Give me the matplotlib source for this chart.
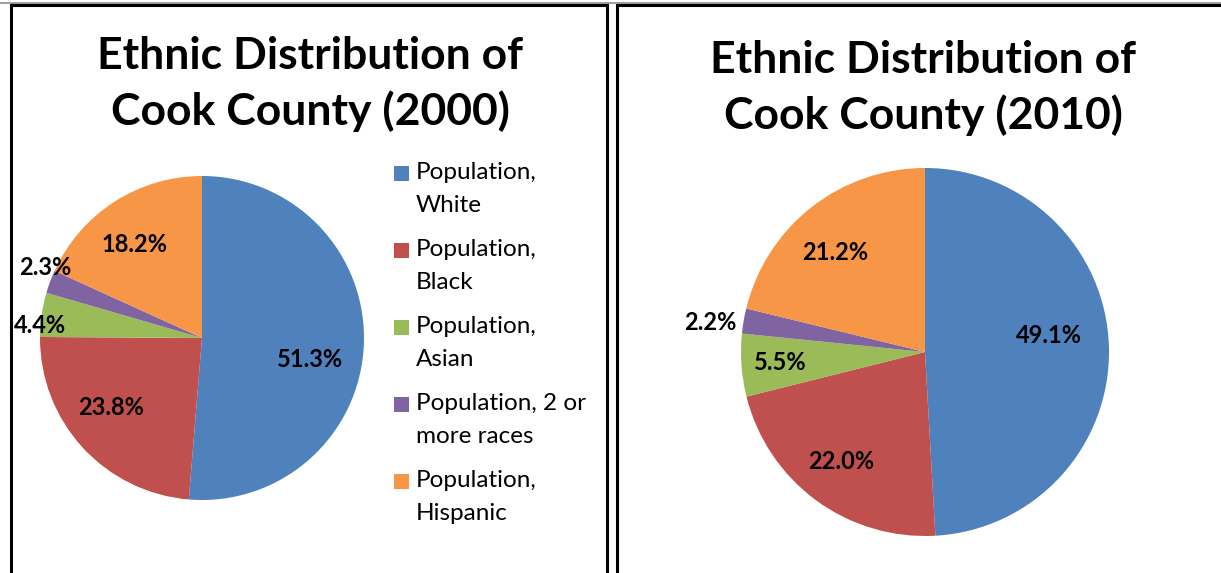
import numpy as np
import matplotlib.pyplot as plt
from matplotlib.patches import Rectangle

# data
groups = ['Population, White', 'Population, Black', 'Population, Asian',
          'Population, 2 or more races', 'Population, Hispanic']
legend_labels = ['Population,\nWhite', 'Population,\nBlack', 'Population,\nAsian',
                 'Population, 2 or\nmore races', 'Population,\nHispanic']
share_2000 = [51.3, 23.8, 4.4, 2.3, 18.2]
share_2010 = [49.1, 22.0, 5.5, 2.2, 21.2]
colors = ['#4F81BD', '#C0504D', '#9BBB59', '#8064A2', '#F79646']

# label placement (fraction of radius, angle shift in degrees)
lab_r_2000 = [0.68, 0.71, 1.00, 1.06, 0.71]
lab_da_2000 = [-9, -5, 4, -4, 3]
lab_r_2010 = [0.68, 0.75, 0.79, 1.18, 0.73]
lab_da_2010 = [6, -1, 0, 2, 4]

plt.rcParams['font.family'] = ['Lato', 'DejaVu Sans']

W, H = 1221, 573
fig = plt.figure(figsize=(W / 100, H / 100), dpi=100)


def fx(px):
    return px / W


def fy(py):
    return 1 - py / H


# panel borders
fig.add_artist(Rectangle((fx(0), fy(3.5)), 1, 0.002, transform=fig.transFigure,
                         color='#A0A0A0', lw=0))
for x0, x1 in [(11, 607), (617, 1240)]:
    fig.add_artist(Rectangle((fx(x0), fy(600)), fx(x1 - x0), fy(5) - fy(600),
                             transform=fig.transFigure, fill=False,
                             edgecolor='black', lw=2.2))


def draw_pie(cx, cy, r, values, lab_r, lab_da, title, tx, ty):
    ax = fig.add_axes([fx(cx - r), fy(cy + r), fx(2 * r), fy(cy - r) - fy(cy + r)])
    wedges, _ = ax.pie(values, colors=colors, startangle=90, counterclock=False,
                       wedgeprops=dict(linewidth=0))
    ax.set_xlim(-1, 1)
    ax.set_ylim(-1, 1)
    ax.set_aspect('auto')
    for w, v, rr, da in zip(wedges, values, lab_r, lab_da):
        ang = np.deg2rad((w.theta1 + w.theta2) / 2 + da)
        ax.text(rr * np.cos(ang), rr * np.sin(ang), '%.1f%%' % v,
                ha='center', va='center', fontsize=17, fontweight='bold',
                clip_on=False)
    fig.text(fx(tx), fy(ty), title, ha='center', va='center',
             fontsize=32, fontweight='bold', linespacing=1.39)
    return wedges


draw_pie(202, 338, 162, share_2000, lab_r_2000, lab_da_2000,
         'Ethnic Distribution of\nCook County (2000)', 310, 84)
draw_pie(925, 352, 184, share_2010, lab_r_2010, lab_da_2010,
         'Ethnic Distribution of\nCook County (2010)', 923, 88)

# legend for the 2000 chart, square next to the first line of each entry
leg_x, leg_y0, leg_step, line_gap = 394, 173, 77, 32
for i, (lab, c) in enumerate(zip(legend_labels, colors)):
    y = leg_y0 + i * leg_step
    fig.add_artist(Rectangle((fx(leg_x), fy(y + 7.5)), fx(15), fy(y - 7.5) - fy(y + 7.5),
                             transform=fig.transFigure, color=c, lw=0))
    fig.text(fx(416), fy(y + line_gap / 2), lab, ha='left', va='center',
             fontsize=17.5, linespacing=1.66)

fig.savefig('out.png', dpi=100)
